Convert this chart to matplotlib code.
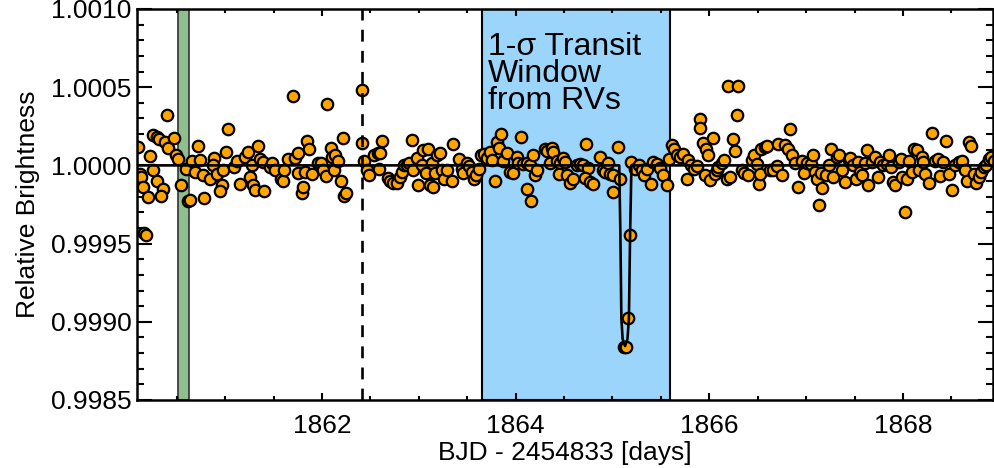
import numpy as np
import matplotlib.pyplot as plt
from matplotlib.ticker import MultipleLocator, FormatStrFormatter

plt.rcParams['font.family'] = ['Liberation Sans', 'DejaVu Sans']

# observed points: time (BJD - 2454833) and offset from 1 in ppm
t_obs = [1860.096, 1860.120, 1860.130, 1860.154, 1860.165, 1860.185, 1860.206, 1860.223, 1860.257, 1860.257,
         1860.292, 1860.316, 1860.292, 1860.361, 1860.337, 1860.378, 1860.395, 1860.412, 1860.474, 1860.488,
         1860.509, 1860.540, 1860.591, 1860.619, 1860.636, 1860.660, 1860.688, 1860.722, 1860.740, 1860.774,
         1860.784, 1860.843, 1860.888, 1860.877, 1860.912, 1860.963, 1860.946, 1860.981, 1861.005, 1861.032,
         1861.091, 1861.118, 1861.153, 1861.205, 1861.239, 1861.256, 1861.273, 1861.291, 1861.308, 1861.335,
         1861.360, 1861.394, 1861.404, 1861.463, 1861.480, 1861.514, 1861.573, 1861.601, 1861.607, 1861.645,
         1861.704, 1861.721, 1861.749, 1861.756, 1861.790, 1861.807, 1861.824, 1861.849, 1861.866, 1861.893,
         1861.955, 1861.990, 1862.014, 1862.038, 1862.048, 1862.093, 1862.107, 1862.134, 1862.128, 1862.169,
         1862.196, 1862.221, 1862.231, 1862.248, 1862.410, 1862.417, 1862.438, 1862.462, 1862.486, 1862.541,
         1862.575, 1862.599, 1862.623, 1862.589, 1862.685, 1862.703, 1862.737, 1862.772, 1862.806, 1862.830,
         1862.851, 1862.875, 1862.899, 1862.927, 1862.944, 1862.978, 1862.995, 1863.047, 1863.030,
         1863.074, 1863.099, 1863.116, 1863.150, 1863.133, 1863.167, 1863.192, 1863.219, 1863.236, 1863.260,
         1863.295, 1863.340, 1863.357, 1863.419, 1863.443, 1863.460, 1863.495, 1863.522, 1863.546, 1863.570,
         1863.591, 1863.625, 1863.639, 1863.674, 1863.701, 1863.736, 1863.753, 1863.787, 1863.811, 1863.846,
         1863.832, 1863.873, 1863.915, 1863.942, 1863.970, 1864.011, 1864.028, 1864.052, 1864.080, 1864.121,
         1864.149, 1864.177, 1864.201, 1864.218, 1864.115, 1864.159, 1864.304, 1864.321, 1864.373, 1864.390,
         1864.356, 1864.425, 1864.459, 1864.493, 1864.511, 1864.452, 1864.528, 1864.562, 1864.590, 1864.631,
         1864.666, 1864.700, 1864.728, 1864.752, 1864.717, 1864.769, 1864.803, 1864.872, 1864.900, 1864.924,
         1864.958, 1864.976, 1865.010, 1865.010, 1865.055, 1865.079, 1865.122, 1865.138, 1865.164, 1865.182,
         1865.195, 1865.234, 1865.279, 1865.303, 1865.327, 1865.354, 1865.396, 1865.423, 1865.458, 1865.492,
         1865.520, 1865.568, 1865.588, 1865.613, 1865.637, 1865.664, 1865.699, 1865.733, 1865.768, 1865.785,
         1865.809, 1865.843, 1865.878, 1865.906, 1865.899, 1865.933, 1865.957, 1865.967, 1865.991,
         1866.008, 1866.043, 1866.060, 1866.077, 1866.094, 1866.129, 1866.156, 1866.180, 1866.198, 1866.301,
         1866.284, 1866.249, 1866.267, 1866.215, 1866.335, 1866.363, 1866.397, 1866.439, 1866.466, 1866.490,
         1866.515, 1866.525, 1866.535, 1866.577, 1866.594, 1866.628, 1866.663, 1866.697, 1866.707, 1866.749,
         1866.783, 1866.811, 1866.835, 1866.859, 1866.880, 1866.921, 1866.956, 1866.983, 1867.007, 1867.052,
         1867.066, 1867.093, 1867.110, 1867.128, 1867.155, 1867.162, 1867.203, 1867.238, 1867.258, 1867.282,
         1867.317, 1867.341, 1867.369, 1867.403, 1867.438, 1867.455, 1867.489, 1867.513, 1867.534, 1867.558,
         1867.582, 1867.603, 1867.627, 1867.644, 1867.679, 1867.713, 1867.741, 1867.765, 1867.799, 1867.834,
         1867.851, 1867.878, 1867.902, 1867.920, 1867.954, 1867.982, 1867.989, 1868.016, 1868.040, 1868.064,
         1868.092, 1868.119, 1868.143, 1868.168, 1868.195, 1868.212, 1868.230, 1868.264, 1868.299, 1868.333,
         1868.360, 1868.385, 1868.409, 1868.443, 1868.471, 1868.505, 1868.533, 1868.574, 1868.608, 1868.636,
         1868.660, 1868.684, 1868.705, 1868.729, 1868.753, 1868.781, 1868.808, 1868.832, 1868.856, 1868.884,
         1868.912, 1868.936]
ppm_obs = [117, -53, -75, -139, -430, -445, -202, 58, -28, 192,
           181, 170, -102, -149, -196, 149, 324, 111, 175, 64,
           43, -124, -21, -228, -224, 26, -43, 121, 32, -64,
           -207, -85, 47, 0, -53, -128, -166, -32, 85, 234,
           -11, 26, -121, 53, 85, -75, 4, -128, -160, 121,
           38, 21, -166, -11, 17, -32, -90, -102, -32, 43,
           441, 47, 81, -47, -175, -139, -43, 153, 102, -53,
           17, 17, -32, -68, 390, 111, 53, 68, -32, 26,
           -102, 175, -196, -175, 484, 143, 26, -32, -60, 64,
           79, 79, 153, -26, -81, -102, -111, -111, -75, -43,
           0, 4, 17, 164, -28, 47, -124, 96, 0,
           -47, 102, -128, -139, 17, -47, 68, 81, -32, -90,
           -32, -102, 134, 43, -21, -47, 17, -4, -43, -90,
           -64, -26, 68, 75, 47, 85, 32, -102, 149, 200,
           111, 26, 81, -43, -47, 53, 17, 181, 11, 17,
           0, 68, -60, -32, -153, -228, 102, 90, 113, 85,
           17, 26, 17, 47, 21, -53, -64, -111, -90, 4,
           11, 0, 134, -17, -81, -107, -117, 53, -32, -43,
           17, -53, -64, -170, 117, -90, -1160, -1160, -978, -445,
           20, -21, 4, -32, -64, -26, -117, 21, 11, -17,
           -64, -124, 43, 128, 102, 68, 53, 75, -85, 32,
           4, -21, -4, 298, 239, 143, -64, 102, 64,
           -96, 175, -53, -32, -11, 17, 32, -90, 507, 507,
           320, 166, 90, -75, -32, -47, -64, 32, 64, 11,
           -117, -53, 107, 117, 124, -32, -32, -4, 139, -64,
           128, 102, 234, 68, 17, -139, 26, -47, 17, 11,
           64, -43, -90, -251, -47, -145, -64, 4, 107, -75,
           53, 68, -32, -107, 32, 47, 0, -85, 21, -43,
           -64, 17, 96, -128, 21, 53, -75, 21, 4, 11,
           64, -11, -107, -128, 21, 43, -75, -298, -85, 26,
           -43, 102, 96, -32, 53, 21, -53, -111, 209, 26,
           43, -68, 21, 153, -53, -160, 4, 21, 26, -32,
           -102, 149, 124, -53, -111, -75, -43, -11, 4, 43,
           53, 26]

# transit model (time, ppm)
t_model = [1860.0, 1865.070, 1865.082, 1865.092, 1865.105, 1865.130, 1865.155, 1865.170, 1865.182, 1865.196, 1869.5]
ppm_model = [0, 0, -445, -978, -1110, -1155, -1110, -978, -445, 0, 0]

rv_window = (1863.65, 1865.595)
green_window = (1860.516, 1860.626)
t_dashed = 1862.417

flux_obs = 1 + np.array(ppm_obs) * 1e-6
flux_model = 1 + np.array(ppm_model) * 1e-6

fig = plt.figure(figsize=(9.95, 4.68), dpi=100)
ax = fig.add_axes([0.1377, 0.1453, 0.8603, 0.8355])

ax.axvspan(*rv_window, facecolor='#9bd5fb', edgecolor='black', linewidth=1.5, zorder=0)
ax.axvspan(*green_window, facecolor='#8fbf8f', edgecolor='#333333', linewidth=1.2, zorder=0)

ax.scatter(t_obs, flux_obs, s=68, c='#ffa500', edgecolors='black', linewidths=1.6, zorder=2)
ax.plot(t_model, flux_model, color='black', linewidth=1.9, zorder=3)
ax.axvline(t_dashed, color='black', linewidth=1.9, linestyle=(0, (4.5, 3.5)), zorder=4)

ax.text(1863.715, 1.000850, '1-σ Transit\nWindow\nfrom RVs', fontsize=23, va='top', ha='left',
        linespacing=0.87, zorder=5)

ax.set_xlim(1860.09, 1868.93)
ax.set_ylim(0.9985, 1.0010)
ax.xaxis.set_major_locator(MultipleLocator(2))
ax.xaxis.set_minor_locator(MultipleLocator(0.5))
ax.yaxis.set_major_locator(MultipleLocator(0.0005))
ax.yaxis.set_minor_locator(MultipleLocator(0.0001))
ax.yaxis.set_major_formatter(FormatStrFormatter('%.4f'))

ax.tick_params(axis='both', which='both', direction='in', top=True, right=True, width=1.5, labelsize=19)
ax.tick_params(axis='y', which='major', length=11, pad=4)
ax.tick_params(axis='y', which='minor', length=5)
ax.tick_params(axis='x', which='major', length=5, pad=10)
ax.tick_params(axis='x', which='minor', length=3)
for s in ax.spines.values():
    s.set_linewidth(1.8)

ax.set_xlabel('BJD - 2454833 [days]', fontsize=19, labelpad=2)
ax.set_ylabel('Relative Brightness', fontsize=19, labelpad=8)

fig.savefig('out.png', dpi=100)
